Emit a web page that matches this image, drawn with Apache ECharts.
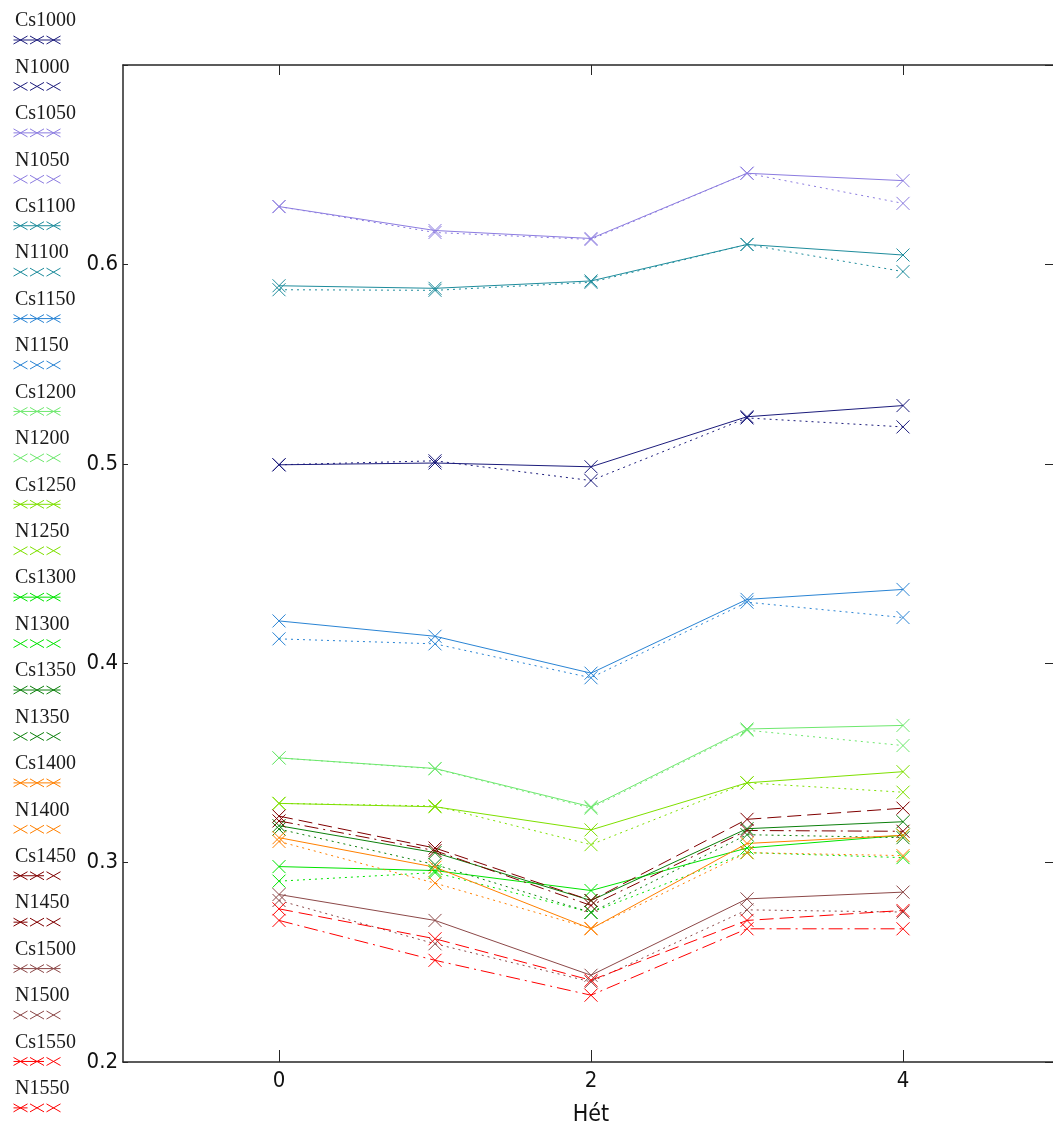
<!DOCTYPE html>
<html>
<head>
<meta charset="utf-8">
<script src="https://cdn.jsdelivr.net/npm/echarts@6/dist/echarts.min.js"></script>
<style>
html, body { margin: 0; padding: 0; background: #fff; }
#chart { width: 1053px; height: 1128px; }
</style>
</head>
<body>
<div id="chart"></div>
<script>
// weeks on the x axis
const weeks = [0, 1, 2, 3, 4];
const temps = [1000, 1050, 1100, 1150, 1200, 1250, 1300, 1350, 1400, 1450, 1500, 1550];

// values (Cs = solid-ish, N = dotted-ish)
const cs1000 = [0.4995, 0.5004, 0.4985, 0.5236, 0.5292];
const n1000  = [0.4995, 0.5015, 0.4916, 0.5230, 0.5185];
const cs1050 = [0.629, 0.617, 0.613, 0.6457, 0.642];
const n1050  = [0.629, 0.616, 0.6125, 0.6457, 0.6306];
const cs1100 = [0.5893, 0.588, 0.5917, 0.610, 0.6047];
const n1100  = [0.5873, 0.587, 0.591, 0.610, 0.5964];
const cs1150 = [0.4212, 0.4135, 0.395, 0.432, 0.437];
const n1150  = [0.4122, 0.4097, 0.3927, 0.4306, 0.4229];
const cs1200 = [0.3525, 0.3472, 0.328, 0.367, 0.3688];
const n1200  = [0.3525, 0.347, 0.3273, 0.3664, 0.3587];
const cs1250 = [0.3297, 0.328, 0.3164, 0.340, 0.3456];
const n1250  = [0.3297, 0.3284, 0.309, 0.340, 0.3353];
const cs1300 = [0.298, 0.296, 0.286, 0.3073, 0.3137];
const n1300  = [0.2907, 0.295, 0.275, 0.305, 0.3025];
const cs1350 = [0.3185, 0.305, 0.281, 0.317, 0.3205];
const n1350  = [0.3168, 0.299, 0.275, 0.314, 0.3125];
const cs1400 = [0.3125, 0.2977, 0.2668, 0.3096, 0.3137];
const n1400  = [0.3106, 0.2897, 0.267, 0.305, 0.3035];
const cs1450 = [0.3233, 0.3073, 0.281, 0.3217, 0.3273];
const n1450  = [0.3209, 0.306, 0.2785, 0.3161, 0.3157];
const cs1500 = [0.284, 0.271, 0.2435, 0.2818, 0.2852];
const n1500  = [0.281, 0.2593, 0.2402, 0.2763, 0.2752];
const cs1550 = [0.2768, 0.2618, 0.241, 0.271, 0.276];
const n1550  = [0.271, 0.251, 0.2335, 0.2668, 0.2668];

const csValues = [cs1000, cs1050, cs1100, cs1150, cs1200, cs1250, cs1300, cs1350, cs1400, cs1450, cs1500, cs1550];
const nValues = [n1000, n1050, n1100, n1150, n1200, n1250, n1300, n1350, n1400, n1450, n1500, n1550];

const colors = ['#1c1c7c', '#8c7ce0', '#1e8c9c', '#2a84d4', '#6ee86e', '#7ee000',
                '#00e400', '#0c800c', '#ff8000', '#800000', '#8c4848', '#ff0000'];

// line styles: s = solid, d = dashed, o = dotted, dd = dash-dot
const csStyle = ['s', 's', 's', 's', 's', 's', 's', 's', 's', 'd', 's', 'd'];
const nStyle  = ['o', 'o', 'o', 'o', 'o', 'o', 'o', 'o', 'o', 'dd', 'o', 'dd'];

const dashTypes = { s: 'solid', d: [14, 6], o: [2, 4], dd: [14, 5, 2, 5] };

const xMarks = 'M0,0L14,8M14,0L0,8M16.5,0L30.5,8M30.5,0L16.5,8M33,0L47,8M47,0L33,8';
const iconLines = { s: 'M0,4L47,4', d: 'M0,4L30.5,4', o: '', dd: 'M0,4L14,4' };

const axisFont = "'Liberation Sans Narrow', 'DejaVu Sans Condensed', sans-serif";

let series = [];
let legendIcons = [];
temps.forEach((t, i) => {
    [['Cs', csValues[i], csStyle[i]], ['N', nValues[i], nStyle[i]]].forEach(([prefix, vals, st]) => {
        const name = prefix + t;
        series.push({
            name: name,
            type: 'line',
            data: weeks.map((w, j) => [w, vals[j]]),
            symbol: 'path://M0,0L10,10M10,0L0,10',
            symbolSize: 13,
            lineStyle: { color: colors[i], width: 1, type: dashTypes[st] },
            itemStyle: { color: colors[i], borderColor: colors[i], borderWidth: 1 },
            emphasis: { disabled: true },
            animation: false
        });
        legendIcons.push({ name: name, icon: 'path://' + xMarks + iconLines[st] });
    });
});

const names = series.map(s => s.name);

let chart = echarts.init(document.getElementById('chart'));

const frameLine = { show: true, onZero: false, lineStyle: { color: '#262626', width: 1.5 } };

let option = {
    backgroundColor: '#fff',
    animation: false,
    grid: {
        left: 123, top: 65, width: 936, height: 997,
        containLabel: false, outerBoundsMode: 'none'
    },
    legend: [
        {
            // marker rows
            data: legendIcons,
            orient: 'vertical',
            left: 13, top: 35.5,
            padding: 0,
            itemWidth: 47, itemHeight: 8,
            itemGap: 37.43,
            selectedMode: false,
            formatter: () => '',
            itemStyle: { borderWidth: 1 },
            textStyle: { fontSize: 8, lineHeight: 8 }
        },
        {
            // name rows, above each marker row
            data: names,
            orient: 'vertical',
            left: 10, top: 11,
            padding: 0,
            icon: 'none',
            itemWidth: 0, itemHeight: 20,
            itemGap: 26.43,
            selectedMode: false,
            textStyle: { fontFamily: "'Liberation Serif', serif", fontSize: 20, lineHeight: 20, color: '#1a1a1a' }
        }
    ],
    xAxis: [
        {
            type: 'value', min: -1, max: 5, position: 'bottom',
            name: 'Hét', nameLocation: 'middle', nameGap: 42,
            nameTextStyle: { fontFamily: axisFont, fontSize: 23, color: '#111' },
            axisLine: frameLine,
            axisTick: { show: true, inside: true, length: 12, customValues: [0, 2, 4], lineStyle: { color: '#262626' } },
            axisLabel: { customValues: [0, 2, 4], fontFamily: axisFont, fontSize: 22, color: '#111', margin: 8 },
            splitLine: { show: false }
        },
        {
            type: 'value', min: -1, max: 5, position: 'top',
            axisLine: frameLine,
            axisTick: { show: true, inside: true, length: 10, customValues: [0, 2, 4], lineStyle: { color: '#262626' } },
            axisLabel: { show: false },
            splitLine: { show: false }
        }
    ],
    yAxis: [
        {
            type: 'value', min: 0.2, max: 0.7, interval: 0.1, position: 'left',
            axisLine: frameLine,
            axisTick: { show: true, inside: true, length: 5, lineStyle: { color: '#262626' } },
            axisLabel: {
                fontFamily: axisFont, fontSize: 22, color: '#111', margin: 5,
                formatter: v => (v > 0.65 ? '' : v.toFixed(1))
            },
            splitLine: { show: false }
        },
        {
            type: 'value', min: 0.2, max: 0.7, interval: 0.1, position: 'right',
            axisLine: frameLine,
            axisTick: { show: true, inside: true, length: 14, lineStyle: { color: '#262626' } },
            axisLabel: { show: false },
            splitLine: { show: false }
        }
    ],
    series: series
};

chart.setOption(option);
</script>
</body>
</html>
